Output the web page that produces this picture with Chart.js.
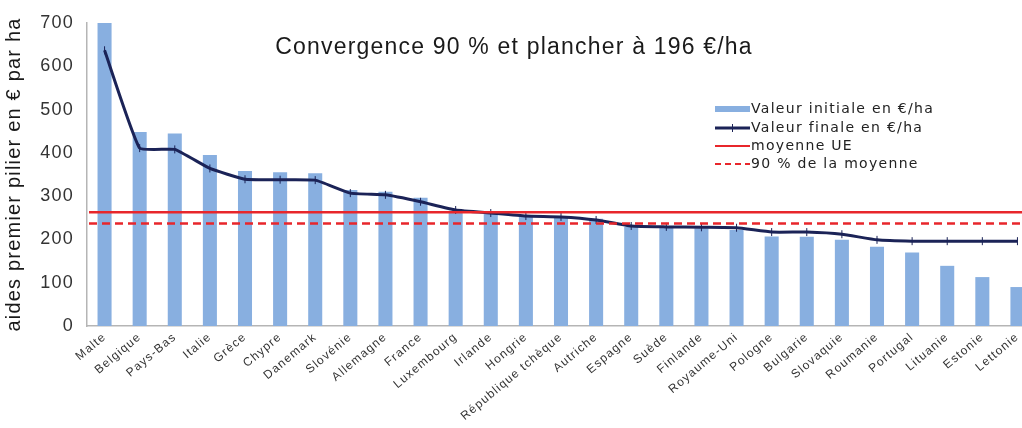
<!DOCTYPE html>
<html>
<head>
<meta charset="utf-8">
<script src="https://cdn.jsdelivr.net/npm/chart.js@4/dist/chart.umd.min.js"></script>
<style>
  html, body { margin: 0; padding: 0; background: #fff; overflow: hidden; }
  #wrap { width: 1040px; height: 428px; position: relative; }
</style>
</head>
<body>
<div id="wrap"><canvas id="chart"></canvas></div>
<script>
const countries = [
    'Malte', 'Belgique', 'Pays-Bas', 'Italie', 'Grèce', 'Chypre', 'Danemark', 'Slovénie', 'Allemagne',
    'France', 'Luxembourg', 'Irlande', 'Hongrie', 'République tchèque', 'Autriche', 'Espagne', 'Suède',
    'Finlande', 'Royaume-Uni', 'Pologne', 'Bulgarie', 'Slovaquie', 'Roumanie', 'Portugal', 'Lituanie',
    'Estonie', 'Lettonie'
];
const initialValues = [
    700, 448, 445, 395, 358, 355, 353, 314, 310,
    296, 266, 261, 256, 252, 248, 229, 227,
    226, 222, 207, 206, 199, 183, 170, 139,
    113, 90
];
const finalValues = [
    637, 411, 408, 364, 339, 338, 337, 307, 303,
    287, 268, 261, 254, 252, 245, 231, 229,
    228, 227, 217, 217, 212, 199, 196, 196,
    196, 196
];
const meanUE = 263;
const meanUE90 = 236.7;
const yTicks = [0, 100, 200, 300, 400, 500, 600, 700];
const titleText = 'Convergence 90 % et plancher à 196 €/ha';
const yTitle = 'aides premier pilier en € par ha';
const legendLabels = ['Valeur initiale en €/ha', 'Valeur finale en €/ha', 'moyenne UE', '90 % de la moyenne'];

const FONT = '"Liberation Sans", Arial, sans-serif';
const LEGEND_FONT = '"DejaVu Sans", sans-serif';
const BAR_COLOR = '#88afe0';
const LINE_COLOR = '#1b2357';
const RED = '#e8262b';

// the source picture is stretched sideways, so text gets some extra spacing
const spacingPlugin = {
    id: 'spacing',
    beforeUpdate(chart) { chart.ctx.letterSpacing = '1.2px'; },
    beforeDraw(chart) { chart.ctx.letterSpacing = '1.2px'; },
};

// horizontal reference lines, title and legend drawn over the plot
const overlayPlugin = {
    id: 'overlay',
    afterDatasetsDraw(chart) {
        const { ctx, chartArea, scales } = chart;
        ctx.save();
        ctx.strokeStyle = RED;
        ctx.lineWidth = 2.5;
        const yMean = scales.y.getPixelForValue(meanUE);
        ctx.beginPath();
        ctx.moveTo(chartArea.left + 2, yMean);
        ctx.lineTo(chartArea.right, yMean);
        ctx.stroke();
        const y90 = scales.y.getPixelForValue(meanUE90);
        ctx.setLineDash([8, 5]);
        ctx.beginPath();
        ctx.moveTo(chartArea.left + 2, y90);
        ctx.lineTo(chartArea.right, y90);
        ctx.stroke();
        ctx.setLineDash([]);
        ctx.restore();
    },
    afterDraw(chart) {
        const { ctx } = chart;
        ctx.save();
        ctx.fillStyle = '#1a1a1a';
        ctx.letterSpacing = '1.2px';
        ctx.font = `23px ${FONT}`;
        ctx.textAlign = 'center';
        ctx.textBaseline = 'middle';
        ctx.fillText(titleText, 514, 48);

        // legend
        const lx = 715, sw = 35;
        const rows = [109, 128, 146, 164];
        ctx.letterSpacing = '1.3px';
        ctx.font = `14px ${LEGEND_FONT}`;
        ctx.textAlign = 'left';
        ctx.fillStyle = '#222';
        legendLabels.forEach((t, i) => ctx.fillText(t, lx + sw + 1, rows[i]));

        ctx.fillStyle = BAR_COLOR;
        ctx.fillRect(lx, rows[0] - 3, sw, 6);

        ctx.strokeStyle = LINE_COLOR;
        ctx.lineWidth = 3;
        ctx.beginPath();
        ctx.moveTo(lx, rows[1]);
        ctx.lineTo(lx + sw, rows[1]);
        ctx.stroke();
        ctx.lineWidth = 1;
        ctx.beginPath();
        ctx.moveTo(lx + sw / 2, rows[1] - 4);
        ctx.lineTo(lx + sw / 2, rows[1] + 4);
        ctx.stroke();

        ctx.strokeStyle = RED;
        ctx.lineWidth = 2;
        ctx.beginPath();
        ctx.moveTo(lx, rows[2]);
        ctx.lineTo(lx + sw, rows[2]);
        ctx.stroke();
        ctx.setLineDash([6, 4]);
        ctx.beginPath();
        ctx.moveTo(lx, rows[3]);
        ctx.lineTo(lx + sw, rows[3]);
        ctx.stroke();
        ctx.restore();
    }
};

const ctx = document.getElementById('chart').getContext('2d');
new Chart(ctx, {
    data: {
        labels: countries,
        datasets: [
            {
                type: 'line',
                label: legendLabels[1],
                data: finalValues,
                borderColor: LINE_COLOR,
                borderWidth: 3,
                tension: 0.12,
                pointStyle: 'line',
                rotation: 90,
                pointRadius: 4,
                pointBorderWidth: 1,
                pointBorderColor: LINE_COLOR,
                order: 0,
            },
            {
                type: 'bar',
                label: legendLabels[0],
                data: initialValues,
                backgroundColor: BAR_COLOR,
                barPercentage: 0.4,
                categoryPercentage: 1,
                order: 1,
            }
        ]
    },
    options: {
        responsive: true,
        maintainAspectRatio: false,
        animation: false,
        layout: { padding: { top: 23, right: 5, left: 0, bottom: 0 } },
        plugins: { legend: { display: false }, tooltip: { enabled: false } },
        scales: {
            x: {
                grid: { display: false, drawTicks: false },
                border: { color: '#b5b5b5', width: 1.5 },
                ticks: {
                    color: '#333',
                    font: { family: FONT, size: 12 },
                    maxRotation: 40,
                    minRotation: 40,
                    autoSkip: false,
                    padding: 4,
                },
                afterFit(scale) { scale.height = 102; },
            },
            y: {
                min: 0,
                max: 700,
                afterBuildTicks(scale) { scale.ticks = yTicks.map((v) => ({ value: v })); },
                grid: { display: false, drawTicks: true, tickLength: 5, tickColor: '#b5b5b5' },
                border: { color: '#b5b5b5', width: 1.5 },
                ticks: { color: '#333', font: { family: FONT, size: 18 }, padding: 8 },
                title: { display: true, text: yTitle, color: '#1a1a1a', font: { family: FONT, size: 20 }, padding: { top: 2, bottom: 0 } },
                afterFit(scale) { scale.width = 87; },
            }
        }
    },
    plugins: [spacingPlugin, overlayPlugin]
});
</script>
</body>
</html>
